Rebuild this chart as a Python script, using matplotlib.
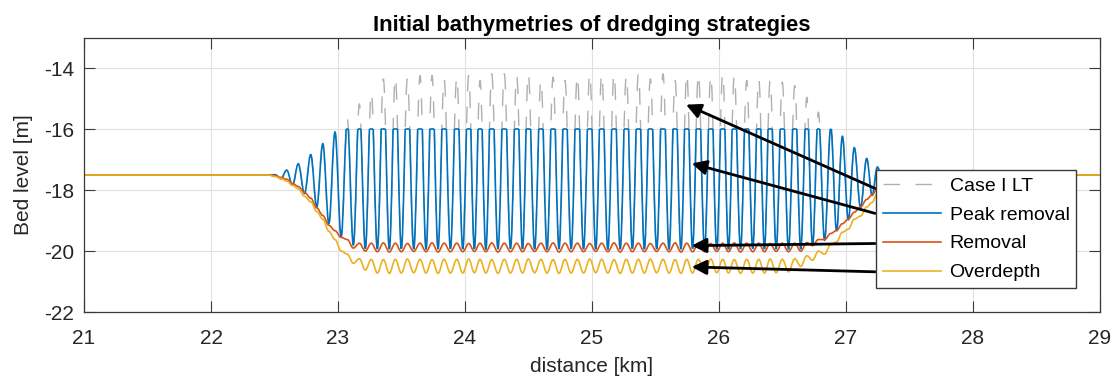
import numpy as np
import matplotlib
matplotlib.use("Agg")
import matplotlib.pyplot as plt
from matplotlib.lines import Line2D
from matplotlib.path import Path
from matplotlib.patches import PathPatch, Rectangle

plt.rcParams['font.family'] = ['Liberation Sans', 'DejaVu Sans']

# ---------------- data ----------------
title = "Initial bathymetries of dredging strategies"
x_label = "distance [km]"
y_label = "Bed level [m]"
series_names = ["Case I LT", "Peak removal", "Removal", "Overdepth"]
x_ticks = [21, 22, 23, 24, 25, 26, 27, 28, 29]
y_ticks = [-22, -20, -18, -16, -14]

flat_level = -17.5          # undisturbed bed level [m]
x_start, x_end = 21.0, 29.0
ramp_start_km = 22.45
ramp_end_km = 27.49
peak_cap = -16.0            # level above which peaks are removed

# positions of the sand-wave crests [km]
crest_km = [22.504, 22.596, 22.687, 22.785, 22.880, 22.976, 23.073, 23.168, 23.262, 23.357,
            23.451, 23.546, 23.646, 23.740, 23.835, 23.935, 24.029, 24.118, 24.210, 24.309,
            24.407, 24.498, 24.598, 24.693, 24.787, 24.884, 24.982, 25.076, 25.173, 25.270,
            25.365, 25.459, 25.559, 25.654, 25.746, 25.837, 25.935, 26.029, 26.120, 26.218,
            26.313, 26.402, 26.498, 26.596, 26.691, 26.782, 26.880, 26.971, 27.065, 27.163,
            27.247, 27.340, 27.435]

# Case I LT: crest and trough levels [m]
case_crest = [-17.49, -17.34, -17.13, -16.83, -16.47, -16.09,
              -15.68, -15.16, -14.78, -14.34, -14.28, -14.34, -14.23, -14.23, -14.34, -14.28,
              -14.23, -14.39, -14.17, -14.17, -14.23, -14.17, -14.39, -14.28, -14.39, -14.23,
              -14.17, -14.17, -14.17, -14.23, -14.17, -14.34, -14.17,
              -14.39, -14.17, -14.17, -14.23, -14.17, -14.23, -14.39, -14.34, -14.39, -14.45,
              -14.56, -14.94, -15.43, -15.92,
              -16.23, -16.60, -16.96, -17.24, -17.42, -17.50]
case_trough = [-17.62, -17.84, -18.11, -18.55, -19.09, -19.53, -19.80,
               -19.92, -19.93, -19.93, -19.92, -19.93, -19.94, -19.93, -19.92, -19.93, -19.93,
               -19.94, -19.93, -19.92, -19.93, -19.93, -19.94, -19.93, -19.92, -19.93, -19.93,
               -19.94, -19.93, -19.92, -19.93, -19.93, -19.94, -19.93, -19.92, -19.93, -19.93,
               -19.94, -19.93, -19.92, -19.93, -19.93, -19.94, -19.93,
               -19.82, -19.64, -19.34, -18.97, -18.57, -18.17, -17.82, -17.60]

# Removal: levels at crest and trough positions [m]
removal_crest = [-17.52, -17.64, -17.88, -18.26, -18.83, -19.33, -19.62, -19.74,
                 -19.74, -19.73, -19.74, -19.75, -19.74, -19.73, -19.74, -19.74, -19.75, -19.74,
                 -19.73, -19.74, -19.74, -19.75, -19.74, -19.73, -19.74, -19.74, -19.75, -19.74,
                 -19.73, -19.74, -19.74, -19.75, -19.74, -19.73, -19.74, -19.74, -19.75, -19.74,
                 -19.73, -19.74, -19.74, -19.75, -19.74, -19.74,
                 -19.72, -19.62, -19.42, -19.10, -18.72, -18.30, -17.95, -17.65, -17.52]
removal_trough = [-17.58, -17.78, -18.07, -18.58, -19.15, -19.55, -19.90, -20.00,
                  -20.02, -20.03, -20.02, -20.01, -20.02, -20.03, -20.02, -20.02, -20.01,
                  -20.02, -20.03, -20.02, -20.02, -20.01, -20.02, -20.03, -20.02, -20.02,
                  -20.01, -20.02, -20.03, -20.02, -20.02, -20.01, -20.02, -20.03, -20.02,
                  -20.02, -20.01, -20.02, -20.03, -20.02, -20.02, -20.01, -20.02,
                  -20.00, -19.82, -19.62, -19.32, -18.95, -18.55, -18.15, -17.80, -17.58]

# Overdepth: levels at crest and trough positions [m]
overdepth_crest = [-17.55, -17.70, -17.95, -18.38, -18.95, -19.62, -20.10, -20.25,
                   -20.27, -20.28, -20.27, -20.26, -20.27, -20.28, -20.27, -20.27, -20.26,
                   -20.27, -20.28, -20.27, -20.27, -20.26, -20.27, -20.28, -20.27, -20.27,
                   -20.26, -20.27, -20.28, -20.27, -20.27, -20.26, -20.27, -20.28, -20.27,
                   -20.27, -20.26, -20.27, -20.28, -20.27, -20.27, -20.26,
                   -20.27, -20.25, -20.15, -20.00, -19.78, -19.38, -18.95, -18.55, -18.10,
                   -17.75, -17.55]
overdepth_trough = [-17.62, -17.84, -18.20, -18.70, -19.35, -20.00, -20.40, -20.62,
                    -20.72, -20.73, -20.72, -20.71, -20.72, -20.73, -20.72, -20.72, -20.71,
                    -20.72, -20.73, -20.72, -20.72, -20.71, -20.72, -20.73, -20.72, -20.72,
                    -20.71, -20.72, -20.73, -20.72, -20.72, -20.71, -20.72, -20.73, -20.72,
                    -20.72, -20.71, -20.72, -20.73, -20.72, -20.72, -20.71,
                    -20.68, -20.50, -20.30, -20.10, -19.70, -19.28, -18.85, -18.40, -17.95,
                    -17.65]

# annotation arrows: (tail x, tail y, head x, head y) in data units
arrows = [(27.228, -17.94, 25.740, -15.19),
          (27.228, -18.76, 25.785, -17.12),
          (27.228, -19.75, 25.785, -19.82),
          (27.228, -20.68, 25.785, -20.52)]

# ---------------- helpers ----------------
def profile(crest_vals, trough_vals):
    """Ordered list of the read crest / trough points of one profile."""
    c = np.asarray(crest_km, dtype=float)
    t = (c[:-1] + c[1:]) / 2.0
    n = min(len(c), len(crest_vals))
    xs = [x_start, ramp_start_km]
    ys = [flat_level, flat_level]
    for i in range(n):
        xs.append(c[i]); ys.append(crest_vals[i])
        if i < len(t) and i < len(trough_vals):
            xs.append(t[i]); ys.append(trough_vals[i])
    xs += [ramp_end_km, x_end]
    ys += [flat_level, flat_level]
    return np.array(xs), np.array(ys)


def wave_path(xs, ys, k=0.364):
    """Smooth Bezier path through the extrema (horizontal tangent at each point)."""
    verts = [(xs[0], ys[0])]
    codes = [Path.MOVETO]
    for i in range(1, len(xs)):
        dx = xs[i] - xs[i - 1]
        verts += [(xs[i - 1] + k * dx, ys[i - 1]), (xs[i] - k * dx, ys[i]), (xs[i], ys[i])]
        codes += [Path.CURVE4] * 3
    return Path(verts, codes)


case_path = wave_path(*profile(case_crest, case_trough))
removal_path = wave_path(*profile(removal_crest, removal_trough))
overdepth_path = wave_path(*profile(overdepth_crest, overdepth_trough))

# ---------------- plot ----------------
c_gray, c_blue, c_red, c_yel = '#b0b0b0', '#0072BD', '#D95319', '#EDB120'
axis_col = '#3a3a3a'
text_col = '#262626'

fig = plt.figure(figsize=(11.16, 3.85), dpi=100)
fig.patch.set_facecolor('white')
ax = fig.add_axes([0.0753, 0.1896, 0.9104, 0.7117])
ax.set_xlim(x_start, x_end)
ax.set_ylim(-22, -13)

lw = 1.2
# Case I LT (dashed grey)
ax.add_patch(PathPatch(case_path, fill=False, edgecolor=c_gray, lw=1.0,
                       linestyle=(0, (12, 11)), zorder=2))

# Peak removal: Case I LT with everything above peak_cap removed
blue_curve = PathPatch(case_path, fill=False, edgecolor=c_blue, lw=lw, zorder=2.1)
ax.add_patch(blue_curve)
blue_curve.set_clip_path(Rectangle((x_start, -22), x_end - x_start, peak_cap + 22,
                                   transform=ax.transData))
# flat tops where the original bed was above the cap
below_verts = list(case_path.vertices) + [(x_end, -22.5), (x_start, -22.5), (x_start, -22.5)]
below_codes = list(case_path.codes) + [Path.LINETO, Path.LINETO, Path.CLOSEPOLY]
below_case = Path(below_verts, below_codes)
cap_line, = ax.plot([x_start, x_end], [peak_cap, peak_cap], color=c_blue, lw=lw, zorder=2.1)
cap_line.set_clip_path(below_case, ax.transData)

ax.add_patch(PathPatch(removal_path, fill=False, edgecolor=c_red, lw=lw, zorder=2.2))
ax.add_patch(PathPatch(overdepth_path, fill=False, edgecolor=c_yel, lw=lw, zorder=2.3))

for (tx, ty, hx, hy) in arrows:
    ax.annotate('', xy=(hx, hy), xytext=(tx, ty), xycoords='data', textcoords='data',
                arrowprops=dict(arrowstyle='-|>', color='k', lw=2.0,
                                mutation_scale=22, shrinkA=0, shrinkB=0),
                zorder=4)

ax.set_xlim(x_start, x_end)
ax.set_ylim(-22, -13)
ax.set_xticks(x_ticks)
ax.set_yticks(y_ticks)
ax.set_xticklabels([str(v) for v in x_ticks])
ax.set_yticklabels([str(v) for v in y_ticks])

ax.grid(True, color='#e0e0e0', lw=0.8)
ax.set_axisbelow(True)
for s in ax.spines.values():
    s.set_color(axis_col)
    s.set_linewidth(0.9)
ax.tick_params(axis='both', direction='in', length=8, width=0.8, color=axis_col,
               top=True, right=True, labelsize=15, labelcolor=text_col)
ax.tick_params(axis='x', pad=12)
ax.tick_params(axis='y', pad=7)

ax.set_title(title, fontsize=15.8, fontweight='bold', color='black', pad=5)
ax.set_xlabel(x_label, fontsize=15, color=text_col)
ax.set_ylabel(y_label, fontsize=15, color=text_col)
ax.xaxis.set_label_coords(0.5, -0.165)
ax.yaxis.set_label_coords(-0.050, 0.5)

handles = [Line2D([], [], color=c_gray, lw=1.0, dashes=(12, 11)),
           Line2D([], [], color=c_blue, lw=lw),
           Line2D([], [], color=c_red, lw=lw),
           Line2D([], [], color=c_yel, lw=lw)]
leg = ax.legend(handles, series_names, loc='upper left', bbox_to_anchor=(0.7795, 0.518),
                borderaxespad=0, fontsize=14, frameon=True, fancybox=False,
                edgecolor=axis_col, framealpha=1, handlelength=3.0, handletextpad=0.42,
                labelspacing=0.58, borderpad=0.36)
leg.get_frame().set_linewidth(1.0)
leg.set_zorder(5)
for t in leg.get_texts():
    t.set_color('black')

fig.savefig('out.png', dpi=100, facecolor='white')
